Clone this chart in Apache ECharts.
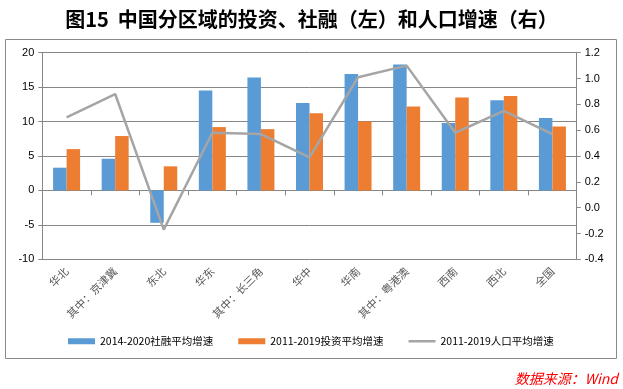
<!DOCTYPE html>
<html><head><meta charset="utf-8">
<script src="https://cdn.jsdelivr.net/npm/echarts@6/dist/echarts.min.js"></script>
<style>html,body{margin:0;padding:0;background:#fff}#c{width:623px;height:389px}</style>
</head><body><div id="c"></div>
<script>
var categories = ['华北','其中：京津冀','东北','华东','其中：长三角','华中','华南','其中：粤港澳','西南','西北','全国'];
var socialFinancing = [3.3, 4.6, -4.7, 14.5, 16.4, 12.7, 16.9, 18.3, 9.8, 13.1, 10.5];
var investment = [6.0, 7.9, 3.5, 9.2, 8.9, 11.2, 10.0, 12.2, 13.5, 13.7, 9.3];
var population = [0.70, 0.88, -0.17, 0.58, 0.57, 0.39, 1.01, 1.10, 0.58, 0.75, 0.57];
var seriesNames = ['2014-2020社融平均增速','2011-2019投资平均增速','2011-2019人口平均增速'];

var chart = echarts.init(document.getElementById('c'));
var numFont = 'Liberation Sans, Arial, sans-serif';
chart.setOption({
  animation: false,
  title: {
    text: '图15  中国分区域的投资、社融（左）和人口增速（右）',
    left: 'center', top: 4,
    textStyle: {fontSize: 20, fontWeight: 'bold', color: '#000', fontFamily: 'Noto Sans CJK SC'}
  },
  graphic: [
    {type: 'rect', shape: {x: 5.5, y: 39.5, width: 611, height: 319}, style: {fill: 'none', stroke: '#8a8a8a', lineWidth: 1}, z: -1},
    {type: 'text', right: 5, top: 372, style: {text: '数据来源：Wind', fill: '#ff0000', font: 'italic 14px "Noto Sans CJK SC"'}}
  ],
  legend: {
    top: 331, left: 63,
    itemWidth: 27, itemHeight: 6, itemGap: 25,
    textStyle: {fontSize: 10.5, color: '#000', fontFamily: 'Noto Sans CJK SC'},
    data: [
      {name: seriesNames[0], icon: 'rect'},
      {name: seriesNames[1], icon: 'rect'},
      {name: seriesNames[2], icon: 'path://M0,0H27V2.5H0Z', itemStyle: {color: '#A5A5A5'}}
    ]
  },
  grid: {left: 42.3, right: 46.3, top: 52.7, bottom: 129.7, containLabel: false},
  xAxis: [
    {
      type: 'category', data: categories, position: 'bottom',
      axisLine: {show: false, onZero: false}, axisTick: {show: false},
      axisLabel: {rotate: 45, margin: 10, fontSize: 11, color: '#595959', fontFamily: 'Noto Sans CJK SC', interval: 0}
    },
    {
      type: 'category', data: categories, position: 'bottom',
      axisLine: {show: true, onZero: true, onZeroAxisIndex: 0, lineStyle: {color: '#868686', width: 1}},
      axisTick: {show: true, inside: false, length: 5, interval: 0, lineStyle: {color: '#868686'}},
      axisLabel: {show: false}
    }
  ],
  yAxis: [
    {
      type: 'value', min: -10, max: 20, interval: 5, position: 'left',
      axisLine: {show: true, lineStyle: {color: '#868686'}},
      axisTick: {show: true, length: 4, lineStyle: {color: '#868686'}},
      axisLabel: {fontSize: 11, color: '#000', fontFamily: numFont, margin: 8},
      splitLine: {show: true, lineStyle: {color: '#868686', width: 1}}
    },
    {
      type: 'value', min: -0.4, max: 1.2, interval: 0.2, position: 'right',
      axisLine: {show: true, lineStyle: {color: '#868686'}},
      axisTick: {show: true, length: 4, lineStyle: {color: '#868686'}},
      axisLabel: {fontSize: 11, color: '#000', fontFamily: numFont, margin: 8,
        formatter: function (v) { return (Math.round(v * 10) / 10).toFixed(1); }},
      splitLine: {show: false}
    }
  ],
  series: [
    {name: seriesNames[0], type: 'bar', data: socialFinancing, xAxisIndex: 0, yAxisIndex: 0,
      barWidth: 13.5, barGap: '0%', itemStyle: {color: '#5B9BD5'}},
    {name: seriesNames[1], type: 'bar', data: investment, xAxisIndex: 0, yAxisIndex: 0,
      barWidth: 13.5, barGap: '0%', itemStyle: {color: '#ED7D31'}},
    {name: seriesNames[2], type: 'line', data: population, xAxisIndex: 0, yAxisIndex: 1,
      symbol: 'none', showSymbol: false, z: 5,
      lineStyle: {color: '#A5A5A5', width: 2.5}, itemStyle: {color: '#A5A5A5'}}
  ]
});
</script></body></html>
